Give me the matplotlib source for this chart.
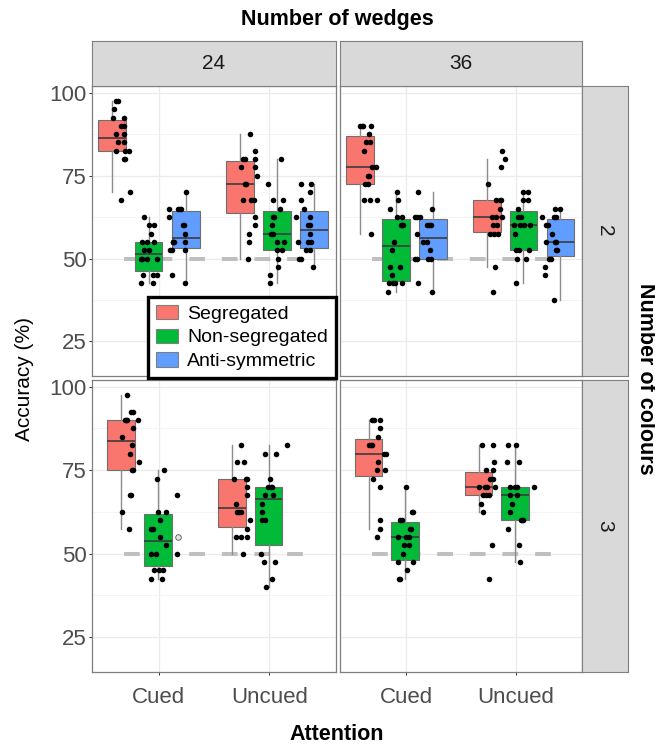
import matplotlib
matplotlib.use('Agg')
import matplotlib.pyplot as plt
from matplotlib.patches import Patch

plt.rcParams['font.family'] = ['Liberation Sans', 'DejaVu Sans']

# facet levels and groups
wedges = ['24', '36']
colours = ['2', '3']
attention = ['Cued', 'Uncued']
conditions = ['Segregated', 'Non-segregated', 'Anti-symmetric']
cond_colors = ['#F8766D', '#00BA38', '#619CFF']
chance = 50
y_ticks = [25, 50, 75, 100]

# accuracy per participant (%)
# jit_* are the horizontal jitter of each dot (pixels), same order as the values
seg_24_2_cued = [97.5, 97.5, 95, 92.5, 92.5, 90, 90, 87.5, 87.5, 85, 85, 82.5, 82.5, 82.5, 80, 80, 70, 67.5]
jit_seg_24_2_cued = [4, 6, 1.7, 1, 11.7, 9.3, 11.7, 4, 11.7, 6, 11.7, 4, 12.7, 17.3, 11.7, 13, 18.3, 8.7]
non_24_2_cued = [62.5, 60, 60, 57.5, 55, 55, 55, 52.5, 52.5, 50, 50, 50, 50, 45, 45, 45, 42.5, 42.5]
jit_non_24_2_cued = [-4.7, 0.3, 5.7, 2.3, -7, -2, 5.7, -4.7, 0.7, -7, -2, 8, -8, -5.3, 4, 8, -8, 4.7]
anti_24_2_cued = [70, 65, 65, 65, 65, 62.5, 60, 60, 57.5, 55, 55, 55, 55, 52.5, 52.5, 52.5, 45, 42.5]
jit_anti_24_2_cued = [0.3, -17, -8, -4.7, -5.7, -16.3, -2.3, -1.3, -0.3, -13, -11.3, -12.3, -1, -15.7, -14, -0.3, -14, -0.3]

seg_24_2_uncued = [87.5, 82.5, 80, 80, 80, 77.5, 77.5, 75, 72.5, 72.5, 67.5, 67.5, 67.5, 62.5, 60, 57.5, 55, 50]
jit_seg_24_2_uncued = [10.3, 14.7, 3, 5.3, 15.3, 1.3, 15.3, 17.3, 4.7, 5.7, 3, 11.3, 13.7, 14.7, 14.7, 8.7, 8.7, 8]
non_24_2_uncued = [80, 72.5, 67.5, 67.5, 65, 62.5, 62.5, 60, 57.5, 57.5, 55, 55, 52.5, 52.5, 50, 47.5, 45, 42.5]
jit_non_24_2_uncued = [4.3, -9, -4, 6, 2.7, -3.7, -3, -4.7, -5.7, -4.3, 0.3, 7, -0.3, 5.3, 1.3, 1, -7, -7.3]
anti_24_2_uncued = [72.5, 72.5, 70, 67.5, 65, 62.5, 62.5, 60, 60, 57.5, 55, 55, 55, 52.5, 52.5, 50, 50, 47.5]
jit_anti_24_2_uncued = [-12.7, -3.3, -4.3, -12.7, -10, -18.3, -4.3, -4.3, -6, -4, -15.7, -6, -3.3, -8.3, -4, -15, -13.3, -1]

seg_36_2_cued = [90, 90, 90, 90, 87.5, 85, 85, 82.5, 77.5, 77.5, 75, 75, 72.5, 72.5, 67.5, 67.5, 67.5, 57.5]
jit_seg_36_2_cued = [0.5, 3.2, 11.5, 2.2, 8.8, 6.2, 10.5, 3.8, 12.2, 16.5, 7.8, 8.8, 5.5, 7.8, 3.8, 10.5, 17.2, 11.5]
non_36_2_cued = [70, 67.5, 65, 62.5, 62.5, 60, 60, 60, 55, 52.5, 47.5, 47.5, 45, 42.5, 42.5, 42.5, 42.5, 40]
jit_non_36_2_cued = [1.3, 2.3, -6, 0.7, 5.7, 4.7, 7.3, 6, -1.7, -4.3, -6, 4, -4.3, -7, -2.7, 5.7, -1, -8.3]
anti_36_2_cued = [70, 65, 62.5, 62.5, 62.5, 60, 60, 60, 57.5, 55, 55, 52.5, 50, 50, 50, 50, 42.5, 40]
jit_anti_36_2_cued = [-15.3, -1.3, -18, -13, -15.7, -5.7, -3.7, -2.3, -16.3, -9.7, -5.7, -3, -18, -15.7, -4.7, -2.3, -14.7, -1.3]

seg_36_2_uncued = [82.5, 80, 77.5, 72.5, 67.5, 67.5, 67.5, 65, 62.5, 62.5, 62.5, 60, 60, 57.5, 57.5, 57.5, 47.5, 40]
jit_seg_36_2_uncued = [15.7, 18, 14.7, 1.3, 9, 14, 13.3, 13, 5.7, 9, 15.7, 6.3, 10.7, 3.3, 11.3, 7.3, 8.3, 6.7]
non_36_2_uncued = [70, 70, 67.5, 67.5, 65, 62.5, 62.5, 60, 60, 60, 60, 57.5, 52.5, 52.5, 52.5, 50, 50, 42.5]
jit_non_36_2_uncued = [-0.3, 4.3, -0.3, 4.7, -5.7, -5.7, -3, -9.7, -3.7, 1, 6.3, -8.7, -7.3, -4.7, 5.3, -7, 2.7, -7.3]
anti_36_2_uncued = [65, 65, 62.5, 62.5, 62.5, 60, 60, 57.5, 55, 55, 55, 52.5, 52.5, 50, 50, 47.5, 45, 37.5]
jit_anti_36_2_uncued = [-5, -0.7, -18.3, -4.3, -6, -14.3, -12.7, -8.3, -14, -4.3, -5.7, -4.3, -3.3, -11.7, -9.3, -15.7, -15.7, -6.7]

seg_24_3_cued = [97.5, 92.5, 92.5, 90, 90, 90, 90, 87.5, 85, 82.5, 80, 77.5, 75, 75, 67.5, 67.5, 62.5, 57.5]
jit_seg_24_3_cued = [6, 11.7, 10.3, 4.3, 6, 16.7, 5.3, 11.7, 1, 11, 9.3, 17.7, 11.7, 10.7, 9.3, 10.3, 1, 8.3]
non_24_3_cued = [75, 72.5, 67.5, 62.5, 62.5, 60, 57.5, 57.5, 55, 52.5, 50, 50, 50, 45, 45, 45, 42.5, 42.5]
jit_non_24_3_cued = [6.2, -0.5, 19.5, 0.2, 8.5, 2.2, -6.2, -4.5, 2.8, 8.5, -6.2, -1.5, 19.5, -3.8, 5.2, 1.2, -6.2, 4.5]

seg_24_3_uncued = [82.5, 77.5, 77.5, 72.5, 72.5, 72.5, 70, 67.5, 65, 62.5, 62.5, 62.5, 60, 57.5, 55, 55, 55, 50]
jit_seg_24_3_uncued = [9.7, 5.7, 12.3, 2.3, 15.7, 14.3, 15, 15.7, 4, 5.7, 7.3, 9, 18.3, 15, 4, 9.7, 15.7, 11.3]
non_24_3_uncued = [82.5, 80, 80, 72.5, 70, 70, 70, 67.5, 67.5, 65, 62.5, 60, 60, 50, 47.5, 47.5, 42.5, 40]
jit_non_24_3_uncued = [18.7, -4, 7, 1.3, -0.3, 2, 3.7, -4, 4.7, -6.3, -7, -6.3, -4, -7.7, -4.7, 6, 3.7, -3]

seg_36_3_cued = [90, 90, 90, 87.5, 85, 82.5, 82.5, 82.5, 80, 80, 77.5, 75, 75, 72.5, 70, 60, 57.5, 55]
jit_seg_36_3_cued = [3.7, 5.3, 11.3, 12, 9.3, 0.3, 3.7, 2, 17.7, 15.3, 9.3, 8.7, 17, 4.3, 11.3, 11, 12, 8.7]
non_36_3_cued = [70, 62.5, 62.5, 60, 60, 57.5, 57.5, 55, 55, 55, 52.5, 52.5, 50, 47.5, 47.5, 45, 42.5, 42.5]
jit_non_36_3_cued = [0.7, 6.7, 7.7, -5, -3.3, 5, 6, -7.3, 1, 4.3, -0.7, 4.3, -1.7, -7.3, 8.3, 1.7, -5.7, -4.7]

seg_36_3_uncued = [82.5, 82.5, 77.5, 75, 75, 72.5, 72.5, 70, 70, 70, 70, 67.5, 67.5, 67.5, 65, 62.5, 52.5, 42.5]
jit_seg_36_3_uncued = [3.3, 14.3, 15.3, 7.7, 14.3, 14.3, 12, 0, 6, 8.3, 17, 4.3, 7.7, 10.3, 2.7, 4.3, 13.3, 10]
non_36_3_uncued = [82.5, 82.5, 77.5, 77.5, 70, 70, 70, 70, 67.5, 67.5, 65, 62.5, 60, 60, 60, 57.5, 52.5, 47.5]
jit_non_36_3_uncued = [-6.7, 0.7, -8.3, 4.3, -5, 0, 2.3, 19, -5, 2.3, -2.7, -5, 6, 7.7, 6.7, -7.3, 4, 5]

# the one odd hollow dot in the 24 / 3 / cued non-segregated group
odd_value = 55
odd_jit = 20.2

groups = {
    ('24', '2', 'Cued'): [(seg_24_2_cued, jit_seg_24_2_cued), (non_24_2_cued, jit_non_24_2_cued), (anti_24_2_cued, jit_anti_24_2_cued)],
    ('24', '2', 'Uncued'): [(seg_24_2_uncued, jit_seg_24_2_uncued), (non_24_2_uncued, jit_non_24_2_uncued), (anti_24_2_uncued, jit_anti_24_2_uncued)],
    ('36', '2', 'Cued'): [(seg_36_2_cued, jit_seg_36_2_cued), (non_36_2_cued, jit_non_36_2_cued), (anti_36_2_cued, jit_anti_36_2_cued)],
    ('36', '2', 'Uncued'): [(seg_36_2_uncued, jit_seg_36_2_uncued), (non_36_2_uncued, jit_non_36_2_uncued), (anti_36_2_uncued, jit_anti_36_2_uncued)],
    ('24', '3', 'Cued'): [(seg_24_3_cued, jit_seg_24_3_cued), (non_24_3_cued, jit_non_24_3_cued)],
    ('24', '3', 'Uncued'): [(seg_24_3_uncued, jit_seg_24_3_uncued), (non_24_3_uncued, jit_non_24_3_uncued)],
    ('36', '3', 'Cued'): [(seg_36_3_cued, jit_seg_36_3_cued), (non_36_3_cued, jit_non_36_3_cued)],
    ('36', '3', 'Uncued'): [(seg_36_3_uncued, jit_seg_36_3_uncued), (non_36_3_uncued, jit_non_36_3_uncued)],
}

# dodge offsets of the boxes around each attention level
dodge = {
    ('2', 'Cued'): [-0.42, -0.09, 0.245],
    ('2', 'Uncued'): [-0.265, 0.068, 0.403],
    ('3', 'Cued'): [-0.34, -0.008],
    ('3', 'Uncued'): [-0.34, -0.008],
}
px_per_unit = 111.0

W, H = 655, 747
fig = plt.figure(figsize=(W / 100, H / 100), dpi=100)

def fig_rect(x0, y0, x1, y1):
    # pixel box (top-left origin) -> figure fraction rect
    return [x0 / W, 1 - y1 / H, (x1 - x0) / W, (y1 - y0) / H]

col_x = [(92, 336), (340, 582)]
row_y = [(86, 376), (380, 672)]
border = '#7f7f7f'

for r, c in enumerate(colours):
    for ci, w in enumerate(wedges):
        ax = fig.add_axes(fig_rect(col_x[ci][0], row_y[r][0], col_x[ci][1], row_y[r][1]))
        ax.set_xlim(0.4, 2.6)
        ax.set_ylim(14.6, 102)
        ax.set_xticks([1, 2])
        ax.set_yticks(y_ticks)
        ax.set_yticks([37.5, 62.5, 87.5], minor=True)
        ax.grid(which='major', color='#ebebeb', lw=0.9)
        ax.grid(which='minor', axis='y', color='#f2f2f2', lw=0.6)
        ax.set_axisbelow(True)
        for s in ax.spines.values():
            s.set_color(border)
            s.set_linewidth(0.9)
        ax.tick_params(which='minor', length=0)
        ax.tick_params(which='major', color='#333333', length=2.5, width=0.7,
                       labelcolor='#4d4d4d', labelsize=16)
        if ci == 0:
            ax.tick_params(axis='y', pad=1.5)
        else:
            ax.tick_params(axis='y', left=False, labelleft=False)
        if r == 1:
            ax.set_xticklabels(attention)
            ax.tick_params(axis='x', pad=8)
        else:
            ax.tick_params(axis='x', bottom=False, labelbottom=False)

        # chance level
        ax.plot([0.69, 2.32], [chance, chance], color='#bfbfbf', lw=2.9,
                ls=(0, (3.9, 4.2)), solid_capstyle='butt', zorder=1.5)

        for ai, att in enumerate(attention):
            offs = dodge[(c, att)]
            for k, (vals, jit) in enumerate(groups[(w, c, att)]):
                pos = ai + 1 + offs[k]
                ax.boxplot([vals], positions=[pos], widths=0.25, patch_artist=True,
                           showfliers=False, showcaps=False, manage_ticks=False,
                           boxprops=dict(facecolor=cond_colors[k], edgecolor='#6e6e6e', lw=0.8),
                           whiskerprops=dict(color='#8c8c8c', lw=1.0),
                           medianprops=dict(color='#3c3c3c', lw=1.2),
                           zorder=2)
                xs = [pos + j / px_per_unit for j in jit]
                ax.scatter(xs, vals, s=16, color='black', lw=0, zorder=4)
                if (w, c, att, k) == ('24', '3', 'Cued', 1):
                    ax.scatter([pos + odd_jit / px_per_unit], [odd_value], s=16,
                               facecolor='#e6e6e6', edgecolor='#555555', lw=0.6, zorder=4)

# facet strips
for ci, w in enumerate(wedges):
    sax = fig.add_axes(fig_rect(col_x[ci][0], 41, col_x[ci][1], 86))
    sax.set_facecolor('#d9d9d9')
    sax.set_xticks([]); sax.set_yticks([])
    for s in sax.spines.values():
        s.set_color(border)
    sax.text(0.5, 0.5, w, ha='center', va='center', fontsize=15, color='#1a1a1a', transform=sax.transAxes)

for r, c in enumerate(colours):
    sax = fig.add_axes(fig_rect(582, row_y[r][0], 628, row_y[r][1]))
    sax.set_facecolor('#d9d9d9')
    sax.set_xticks([]); sax.set_yticks([])
    for s in sax.spines.values():
        s.set_color(border)
    sax.text(0.5, 0.5, c, ha='center', va='center', rotation=-90, fontsize=15, color='#1a1a1a', transform=sax.transAxes)

# titles
fig.text(337 / W, 1 - 19 / H, 'Number of wedges', ha='center', va='center', fontsize=15.5, fontweight='bold')
fig.text(646 / W, 1 - 379 / H, 'Number of colours', ha='center', va='center', rotation=-90, fontsize=15.5, fontweight='bold')
fig.text(25 / W, 1 - 379 / H, 'Accuracy (%)', ha='center', va='center', rotation=90, fontsize=15)
fig.text(337 / W, 1 - 735 / H, 'Attention', ha='center', va='center', fontsize=15.5, fontweight='bold')

# legend
handles = [Patch(facecolor=col, edgecolor='#7f7f7f', lw=0.8, label=lab)
           for col, lab in zip(cond_colors, conditions)]
leg = fig.legend(handles=handles, loc='lower right', bbox_to_anchor=(336 / W, 1 - 378 / H),
                 frameon=True, fancybox=False, framealpha=1, edgecolor='black',
                 fontsize=14, handlelength=1.1, handleheight=0.75, labelspacing=0.3,
                 handletextpad=0.5, borderpad=0.4, borderaxespad=0)
leg.get_frame().set_linewidth(2.4)
leg.set_zorder(10)

fig.savefig('out.png', dpi=100)
